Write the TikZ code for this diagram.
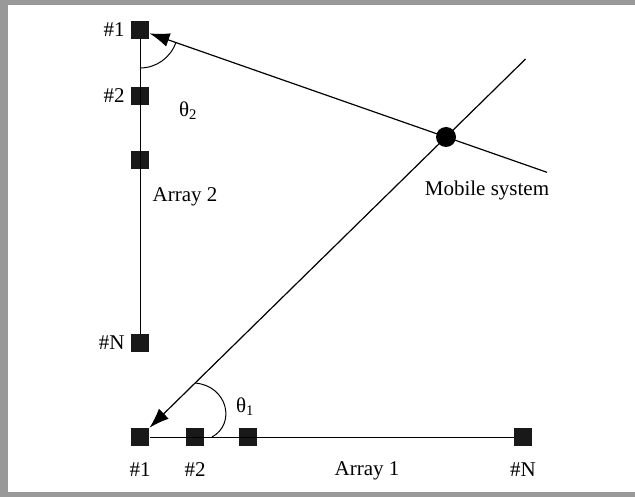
\documentclass[tikz,border=0pt]{standalone}
\usepackage{fontspec}
\setmainfont{Liberation Serif}
\usetikzlibrary{arrows.meta,calc}

\tikzset{
  elem/.style={fill=black!90,minimum size=18pt,inner sep=0pt},
  lbl/.style={inner sep=0pt,font=\fontsize{21}{25}\selectfont},
  ray/.style={line width=1.2pt,-{Latex[length=20pt,width=14pt]}},
}

\begin{document}
\begin{tikzpicture}[x=1pt,y=-1pt,line width=1pt]
      \useasboundingbox (0,0) rectangle (635,497);
      \fill[black!40] (0,0) rectangle (635,5);
      \fill[black!40] (0,0) rectangle (8,497);
      \fill[black!40] (0,492) rectangle (635,497);

      \node[elem] (a2n1) at (140,30) {};
      \node[elem] (a2n2) at (140,96) {};
      \node[elem] (a2n3) at (140,160) {};
      \node[elem] (a2nN) at (140,343) {};
      \node[elem] (a1n1) at (140,437) {};
      \node[elem] (a1n2) at (195,437) {};
      \node[elem] (a1n3) at (248,437) {};
      \node[elem] (a1nN) at (523,437) {};
      \coordinate (ms) at (446,137);
      \coordinate (far1) at ($(a1n1)!1.26!(ms)$);
      \coordinate (far2) at ($(a2n1)!1.33!(ms)$);

      \draw (a2n1) -- (a2nN);
      \draw (a1n1) -- (a1nN);
      \draw[ray] (far1) -- (a1n1);
      \draw[ray] (far2) -- (a2n1);
      \node[circle,fill=black,minimum size=20pt,inner sep=0pt] (mob) at (ms) {};

      \draw ($(a1n1)!0.18!(ms)$) .. controls (228,386) and (236,424) .. (212,437);
      \draw (140,68) arc[start angle=90,end angle=19,radius=38];

      \node[lbl,anchor=east] (t2n1) at (125,30) {\#1};
      \node[lbl,anchor=east] (t2n2) at (125,96) {\#2};
      \node[lbl,anchor=east] (t2nN) at (125,343) {\#N};
      \node[lbl] (t1n1) at (140,470) {\#1};
      \node[lbl] (t1n2) at (195,470) {\#2};
      \node[lbl] (t1nN) at (523,470) {\#N};
      \node[lbl] (arr1) at (367,471) {Array 1};
      \node[lbl] (arr2) at (185,197) {Array 2};
      \node[lbl] (mobt) at (487,190) {Mobile system};
      \node[lbl] (th2) at (188,111) {θ\textsubscript{2}};
      \node[lbl] (th1) at (245,407) {θ\textsubscript{1}};
    \end{tikzpicture}
\end{document}
